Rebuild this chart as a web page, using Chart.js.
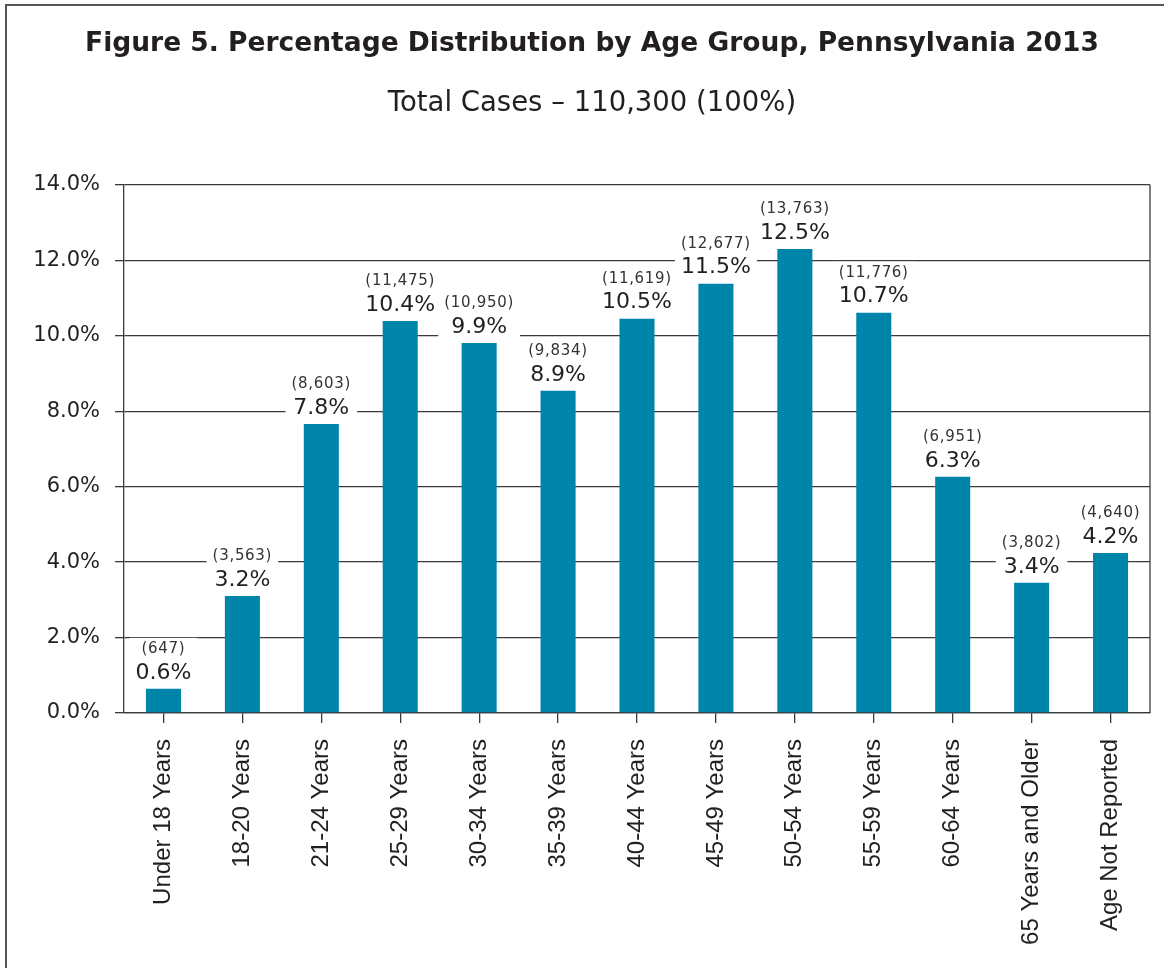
<!DOCTYPE html>
<html>
<head>
<meta charset="utf-8">
<script src="https://cdn.jsdelivr.net/npm/chart.js@4.4.1/dist/chart.umd.min.js"></script>
<style>
  html, body { margin: 0; padding: 0; background: #fff; }
  canvas { display: block; }
</style>
</head>
<body>
<canvas id="chart" width="1164" height="968"></canvas>
<script>
const categories = [
	'Under 18 Years', '18-20 Years', '21-24 Years', '25-29 Years', '30-34 Years',
	'35-39 Years', '40-44 Years', '45-49 Years', '50-54 Years', '55-59 Years',
	'60-64 Years', '65 Years and Older', 'Age Not Reported'
];
// bar heights as drawn in the figure (percent)
const barPercents = [0.64, 3.10, 7.66, 10.39, 9.81, 8.54, 10.45, 11.38, 12.30, 10.61, 6.26, 3.45, 4.24];
// printed labels
const pctLabels = [0.6, 3.2, 7.8, 10.4, 9.9, 8.9, 10.5, 11.5, 12.5, 10.7, 6.3, 3.4, 4.2];
const caseCounts = [647, 3563, 8603, 11475, 10950, 9834, 11619, 12677, 13763, 11776, 6951, 3802, 4640];
const yTicks = [0, 2, 4, 6, 8, 10, 12, 14];

const barColor = '#0085AA';
const lineColor = '#3a3a3a';
const textColor = '#231f20';

const frameAndBorder = {
	id: 'frameAndBorder',
	afterDraw(chart) {
		const ctx = chart.ctx;
		const area = chart.chartArea;
		ctx.save();
		// outer frame (top + left only)
		ctx.strokeStyle = '#555';
		ctx.lineWidth = 2;
		ctx.beginPath();
		ctx.moveTo(6, 968);
		ctx.lineTo(6, 5);
		ctx.lineTo(1164, 5);
		ctx.stroke();
		// right edge of plot box
		ctx.strokeStyle = lineColor;
		ctx.lineWidth = 1.3;
		ctx.beginPath();
		ctx.moveTo(area.right, area.top);
		ctx.lineTo(area.right, area.bottom);
		ctx.stroke();
		ctx.restore();
	}
};

const barLabels = {
	id: 'barLabels',
	afterDatasetsDraw(chart) {
		const ctx = chart.ctx;
		const bars = chart.getDatasetMeta(0).data;
		ctx.save();
		bars.forEach((bar, i) => {
			const pct = pctLabels[i].toFixed(1) + '%';
			const cnt = '(' + caseCounts[i].toLocaleString('en-US') + ')';

			ctx.font = '22px "DejaVu Sans"';
			ctx.letterSpacing = '0px';
			const wPct = ctx.measureText(pct).width;
			ctx.font = '15px "DejaVu Sans"';
			ctx.letterSpacing = '0.7px';
			const wCnt = ctx.measureText(cnt).width;
			const w = Math.max(wPct, wCnt) + 12;

			ctx.fillStyle = '#fff';
			ctx.fillRect(bar.x - w / 2, bar.y - 51, w, 48);

			ctx.textAlign = 'center';
			ctx.textBaseline = 'middle';
			ctx.fillStyle = '#333';
			ctx.fillText(cnt, bar.x, bar.y - 40);

			ctx.font = '22px "DejaVu Sans"';
			ctx.letterSpacing = '0px';
			ctx.fillStyle = textColor;
			ctx.fillText(pct, bar.x, bar.y - 16);
		});
		ctx.restore();
	}
};

new Chart(document.getElementById('chart'), {
	type: 'bar',
	data: {
		labels: categories,
		datasets: [{
			data: barPercents,
			backgroundColor: barColor,
			borderWidth: 0,
			barPercentage: 0.444,
			categoryPercentage: 1
		}]
	},
	options: {
		responsive: false,
		animation: false,
		devicePixelRatio: 1,
		layout: { padding: { left: 34, right: 14, top: 0, bottom: 0 } },
		plugins: {
			legend: { display: false },
			tooltip: { enabled: false },
			title: {
				display: true,
				text: 'Figure 5. Percentage Distribution by Age Group, Pennsylvania 2013',
				color: textColor,
				font: { family: 'DejaVu Sans', size: 26.5, weight: 'bold', lineHeight: 1.2 },
				padding: { top: 28, bottom: 28 }
			},
			subtitle: {
				display: true,
				text: 'Total Cases \u2013 110,300 (100%)',
				color: textColor,
				font: { family: 'DejaVu Sans', size: 27.5, weight: 'normal', lineHeight: 1.2 },
				padding: { top: 0, bottom: 64 }
			}
		},
		scales: {
			x: {
				afterFit(scale) { scale.height = 255; },
				grid: {
					display: true,
					drawOnChartArea: false,
					drawTicks: true,
					tickLength: 10,
					offset: false,
					color: lineColor,
					lineWidth: 1.3
				},
				border: { display: true, color: lineColor, width: 1.3 },
				ticks: {
					minRotation: 90,
					maxRotation: 90,
					autoSkip: false,
					padding: 16,
					color: textColor,
					font: { family: 'Liberation Sans', size: 24 }
				}
			},
			y: {
				min: 0,
				max: 14,
				afterFit(scale) { scale.width = 90; },
				afterBuildTicks(scale) { scale.ticks = yTicks.map(v => ({ value: v })); },
				grid: {
					color: lineColor,
					lineWidth: 1.3,
					tickLength: 9
				},
				border: { display: true, color: lineColor, width: 1.3 },
				ticks: {
					padding: 15,
					color: textColor,
					font: { family: 'DejaVu Sans', size: 21 },
					callback: v => v.toFixed(1) + '%'
				}
			}
		}
	},
	plugins: [frameAndBorder, barLabels]
});
</script>
</body>
</html>
